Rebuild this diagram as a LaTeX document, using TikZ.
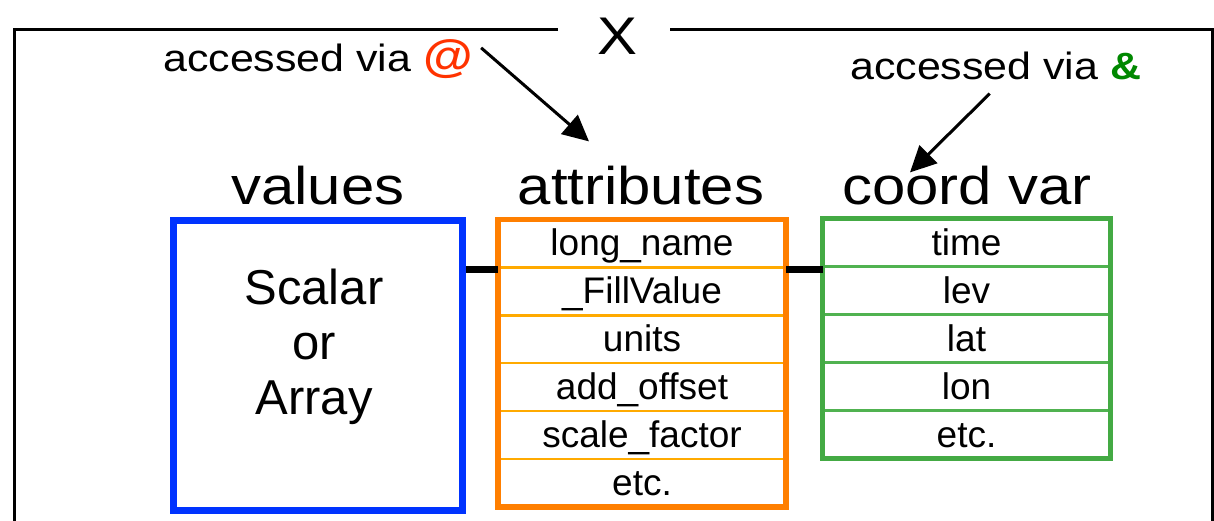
\documentclass[tikz,border=0pt]{standalone}
\usepackage{fontspec}
\setmainfont{Liberation Sans}
\newfontfamily\widesans[FakeStretch=1.13]{Liberation Sans}
\usetikzlibrary{arrows.meta, positioning, calc}

\definecolor{valblue}{RGB}{0,51,255}
\definecolor{attrorange}{RGB}{255,127,0}
\definecolor{attrline}{RGB}{255,170,0}
\definecolor{coordgreen}{RGB}{68,170,68}
\definecolor{coordline}{RGB}{80,178,80}
\definecolor{atred}{RGB}{255,51,0}
\definecolor{ampgreen}{RGB}{0,136,0}

\begin{document}
\begin{tikzpicture}[
    x=1pt, y=-1pt,
    >={Triangle[length=26pt, width=25pt]},
    % Text
    headtext/.style={font=\widesans\fontsize{53}{60}\selectfont, inner sep=0pt, anchor=base},
    notetext/.style={font=\widesans\fontsize{38}{44}\selectfont, inner sep=0pt, anchor=base west},
    % Boxes
    valbox/.style   ={draw=valblue, line width=7pt, minimum width=289pt, minimum height=289pt, inner sep=0pt},
    valtext/.style  ={font=\fontsize{49}{55}\selectfont, align=center, inner sep=0pt},
    attrcell/.style ={draw=attrline, line width=2.5pt, minimum width=288pt, minimum height=47.9pt,
                      inner sep=0pt, outer sep=0pt, text height=25pt, text depth=0pt,
                      font=\fontsize{37}{40}\selectfont},
    coordcell/.style={attrcell, draw=coordline, line width=3pt, minimum height=48pt},
    attrframe/.style ={draw=attrorange, line width=5.5pt},
    coordframe/.style={draw=coordgreen, line width=5pt},
    % Lines
    outline/.style={line width=3pt},
    link/.style   ={line width=7pt},
    pointer/.style={line width=3pt, ->}
]
\useasboundingbox (0,0) rectangle (1214,521);

% ----------------------------- Frame ---------------------------------
\node[headtext] (xname) at (617,55) {X};
\coordinate (gapL) at (558,30);
\coordinate (gapR) at (670,30);
\coordinate (frameBL) at (14,521);
\coordinate (frameBR) at (1212,521);
\draw[outline] (gapL) -| (frameBL);
\draw[outline] (gapR) -| (frameBR);

% ----------------------------- Values --------------------------------
\node[valbox] (vals) at (318,365.5) {};
\node[valtext] (valtxt) at ([xshift=-4pt,yshift=19pt]vals.center) {Scalar\\or\\Array};
\node[headtext] (valhead) at (318,205) {values};

% --------------------------- Attributes ------------------------------
\foreach \name [count=\i] in {long\_name, \_FillValue, units, add\_offset, scale\_factor, etc.}
  \node[attrcell] (attr\i) at (642,{219.5+47.9*(\i-0.5)}) {\name};
\draw[attrframe] (attr1.north west) rectangle (attr6.south east);
\node[headtext] (attrhead) at (641,205) {attributes};

% --------------------------- Coord vars ------------------------------
\foreach \name [count=\i] in {time, lev, lat, lon, etc.}
  \node[coordcell] (coord\i) at (966.5,{218.5+48*(\i-0.5)}) {\name};
\draw[coordframe] (coord1.north west) rectangle (coord5.south east);
\node[headtext] (coordhead) at (967,205) {coord var};

% Links between the three parts
\coordinate (linkL) at ([yshift=-2pt]attr1.south west);
\coordinate (linkR) at ([yshift=-2pt]attr1.south east);
\draw[link] (vals.east |- linkL) -- (linkL);
\draw[link] (linkR) -- (linkR -| coord1.west);

% ---------------------------- Notes ----------------------------------
\node[notetext] (atnote) at (163,72) {accessed via \textbf{\fontsize{45}{50}\selectfont\textcolor{atred}{@}}};
\node[notetext] (ampnote) at (850,80) {accessed via \textbf{\textcolor{ampgreen}{\&}}};

\draw[pointer] ($(atnote.north east)+(8,8)$) -- ($(attrhead.north)+(-52,-25)$);
\draw[pointer] ($(ampnote.south)+(-6,13)$) -- ($(coordhead.north)+(-57,6)$);

\end{tikzpicture}
\end{document}
